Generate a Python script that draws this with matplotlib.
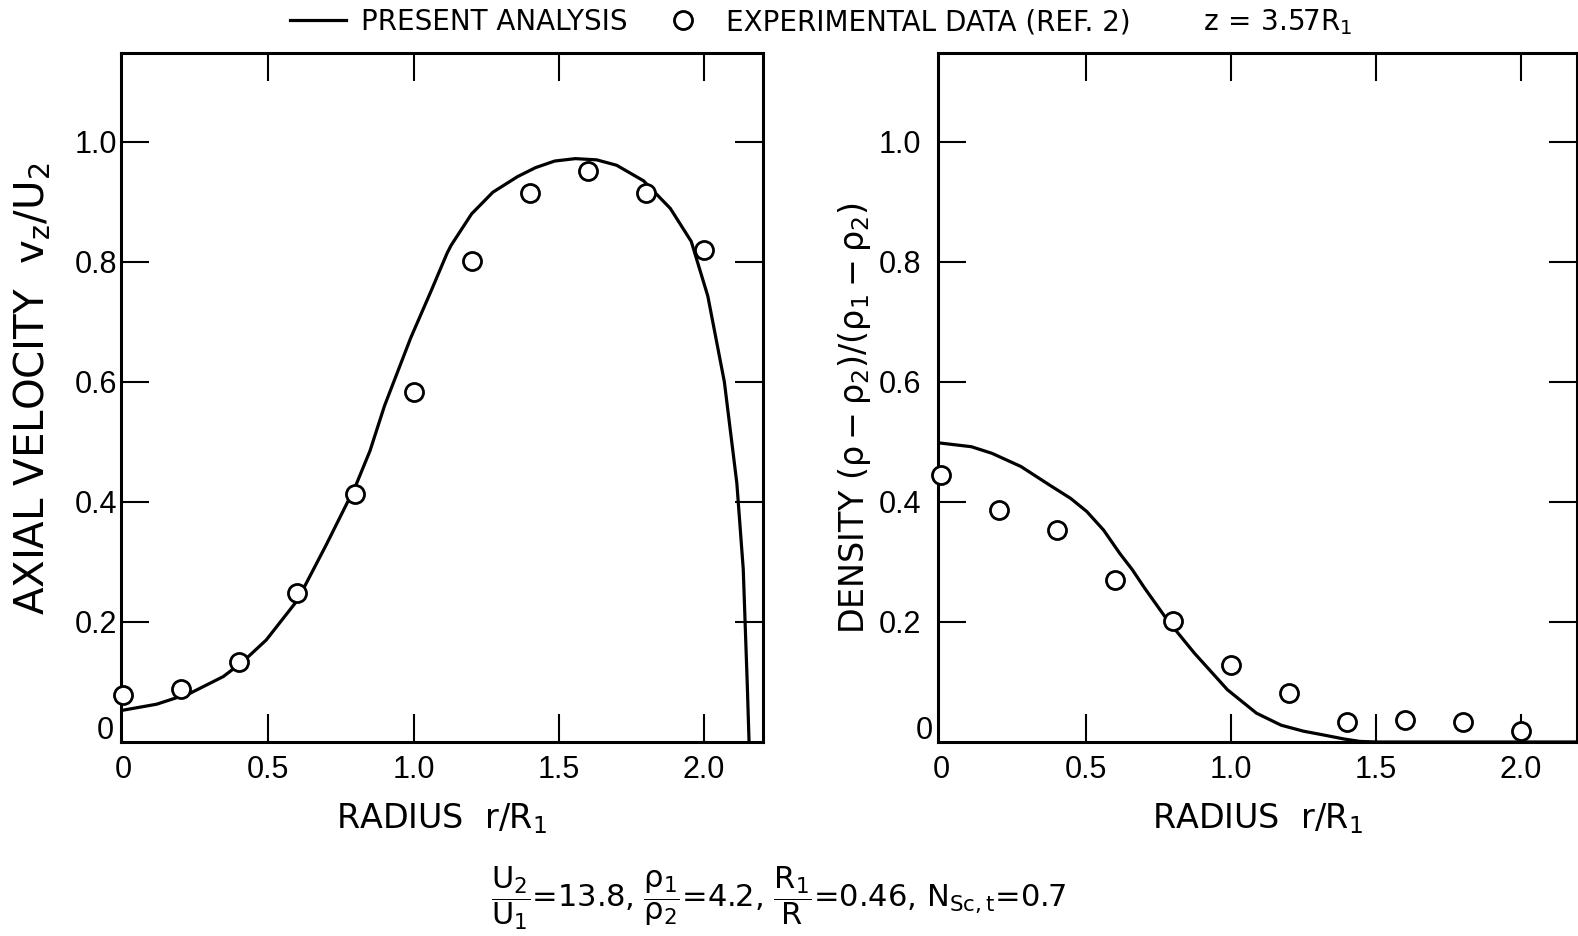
import matplotlib
matplotlib.use("Agg")
import matplotlib.pyplot as plt
from matplotlib.lines import Line2D

plt.rcParams["font.family"] = ["DejaVu Sans"]
plt.rcParams["mathtext.fontset"] = "dejavusans"
plt.rcParams["mathtext.default"] = "regular"

TICK_FONT = ["Liberation Sans", "DejaVu Sans"]

# analysis curve, axial velocity v_z/U_2 vs r/R_1
vel_r = [0.0, 0.116, 0.23, 0.345, 0.413, 0.493, 0.60, 0.70, 0.80, 0.85,
         0.90, 0.99, 1.06, 1.116, 1.13, 1.20, 1.273, 1.358, 1.42, 1.486,
         1.557, 1.63, 1.699, 1.792, 1.884, 1.956, 2.013, 2.07, 2.113, 2.135,
         2.149, 2.155]
vel_fit = [0.053, 0.063, 0.081, 0.109, 0.134, 0.170, 0.236, 0.329, 0.426,
           0.485, 0.560, 0.673, 0.751, 0.815, 0.828, 0.880, 0.916, 0.942,
           0.957, 0.968, 0.972, 0.970, 0.961, 0.935, 0.889, 0.834, 0.743,
           0.600, 0.431, 0.288, 0.094, 0.0]

# measured velocity points
vel_exp_r = [0.0, 0.2, 0.4, 0.6, 0.8, 1.0, 1.2, 1.4, 1.6, 1.8, 2.0]
vel_exp = [0.079, 0.089, 0.134, 0.248, 0.413, 0.583, 0.801, 0.914, 0.951,
           0.915, 0.820]

# analysis curve, density ratio vs r/R_1
den_r = [0.0, 0.105, 0.176, 0.276, 0.375, 0.447, 0.503, 0.561, 0.617, 0.66,
         0.703, 0.781, 0.874, 0.988, 1.088, 1.173, 1.25, 1.316, 1.39, 1.444,
         1.50, 2.19]
den_fit = [0.498, 0.492, 0.481, 0.459, 0.428, 0.406, 0.384, 0.353, 0.314,
           0.287, 0.256, 0.203, 0.148, 0.087, 0.048, 0.028, 0.018, 0.012,
           0.005, 0.001, 0.0, 0.0]

# measured density points
den_exp_r = [0.0, 0.2, 0.4, 0.6, 0.8, 1.0, 1.2, 1.4, 1.6, 1.8, 2.0]
den_exp = [0.445, 0.386, 0.353, 0.270, 0.202, 0.129, 0.082, 0.033, 0.036,
           0.033, 0.018]

x_ticks = [0.0, 0.5, 1.0, 1.5, 2.0]
x_labels = ["0", "0.5", "1.0", "1.5", "2.0"]
y_ticks = [0.2, 0.4, 0.6, 0.8, 1.0]
y_labels = ["0.2", "0.4", "0.6", "0.8", "1.0"]

W, H = 1578, 936
fig = plt.figure(figsize=(W / 100, H / 100), dpi=100)


def px_axes(x0, x1, y_top, y_bot):
    return fig.add_axes([x0 / W, 1 - y_bot / H, (x1 - x0) / W,
                         (y_bot - y_top) / H])


def style_axes(ax, xlim, ypad, zero_dx):
    ax.set_xlim(*xlim)
    ax.set_ylim(0, 1.148)
    for s in ax.spines.values():
        s.set_linewidth(2.2)
    ax.set_xticks(x_ticks)
    ax.set_xticklabels(x_labels, family=TICK_FONT, fontsize=22)
    ax.set_yticks(y_ticks)
    ax.set_yticklabels(y_labels, family=TICK_FONT, fontsize=22)
    ax.tick_params(axis="both", direction="in", length=20, width=1.5,
                   top=True, right=True)
    ax.tick_params(axis="x", pad=9)
    ax.tick_params(axis="y", pad=ypad)
    # no tick mark at the origin, only its label
    t0 = ax.xaxis.get_major_ticks()[0]
    t0.tick1line.set_visible(False)
    t0.tick2line.set_visible(False)
    ax.annotate("0", xy=(0, 0.019), xycoords=("axes fraction", "data"),
                xytext=(zero_dx, 0), textcoords="offset points",
                ha="right", va="center", family=TICK_FONT, fontsize=22)


ax1 = px_axes(121, 763, 53, 742)
style_axes(ax1, (-0.007, 2.203), 3, -5)
ax1.plot(vel_r, vel_fit, color="black", lw=2.3, zorder=2)
ax1.plot(vel_exp_r, vel_exp, "o", ms=13, mfc="white", mec="black", mew=2.0,
         zorder=3, clip_on=False)
ax1.set_xlabel(r"RADIUS  r/R$_1$", fontsize=24, labelpad=12)
ax1.set_ylabel(r"AXIAL VELOCITY  v$_{\rm z}$/U$_2$", fontsize=29)
ax1.yaxis.set_label_coords(-0.106, 0.512)

ax2 = px_axes(938, 1577, 53, 742)
style_axes(ax2, (-0.010, 2.193), 12, -4)
ax2.plot(den_r, den_fit, color="black", lw=2.3, zorder=2)
ax2.plot(den_exp_r, den_exp, "o", ms=13, mfc="white", mec="black", mew=2.0,
         zorder=3, clip_on=False)
ax2.set_xlabel(r"RADIUS  r/R$_1$", fontsize=24, labelpad=12)
ax2.set_ylabel(r"DENSITY $(\rho - \rho_2)/(\rho_1 - \rho_2)$", fontsize=24)
ax2.yaxis.set_label_coords(-0.102, 0.470)

handles = [Line2D([], [], color="black", lw=2.3),
           Line2D([], [], ls="none", marker="o", ms=13, mfc="white",
                  mec="black", mew=2.0)]
fig.legend(handles, ["PRESENT ANALYSIS", "EXPERIMENTAL DATA (REF. 2)"],
           loc="center left", bbox_to_anchor=(290 / W, 1 - 22 / H), ncol=2,
           frameon=False, fontsize=20, handlelength=2.0, handletextpad=0.55,
           columnspacing=1.0, borderaxespad=0, borderpad=0)
fig.text(1203 / W, 1 - 22 / H, r"$\mathrm{z\,=\,3.57R_1}$", fontsize=20,
         ha="left", va="center")

fig.text(778 / W, 1 - 898 / H,
         r"$\dfrac{U_2}{U_1}$=13.8, $\dfrac{\rho_1}{\rho_2}$=4.2, "
         r"$\dfrac{R_1}{R}$=0.46, N$_{\rm Sc,t}$=0.7",
         fontsize=22, ha="center", va="center")

fig.savefig("out.png", dpi=100)
